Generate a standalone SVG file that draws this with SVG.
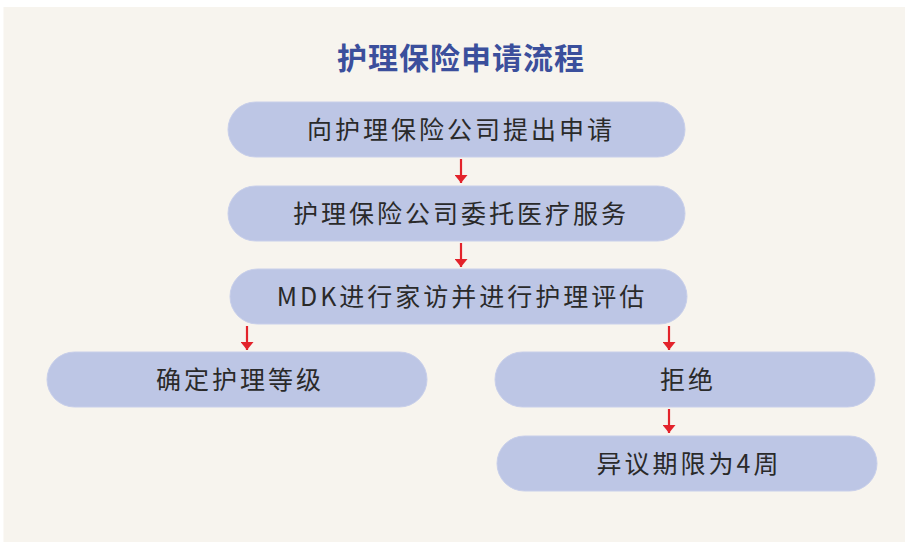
<svg xmlns="http://www.w3.org/2000/svg" width="905" height="543" viewBox="0 0 905 543">
<style>
.node{fill:#bdc6e5;stroke:#c8cfea;stroke-width:1}
.lbl{font-family:"Noto Sans CJK SC","Noto Sans",sans-serif;font-size:25px;fill:#2a2a2a;text-anchor:middle;letter-spacing:3px}
.title{font-family:"Noto Sans CJK SC","Noto Sans",sans-serif;font-size:30px;font-weight:bold;fill:#3b4f9c;text-anchor:middle;letter-spacing:1px}
.conn line{stroke:#e3232b;stroke-width:2.2}
</style>
<defs>
<marker id="ah" viewBox="0 0 8 13" refX="8" refY="6.5" markerWidth="8" markerHeight="13" markerUnits="userSpaceOnUse" orient="auto">
<path d="M0,0 L8,6.5 L0,13 Z" fill="#e3232b"/>
</marker>
</defs>
<rect x="3.5" y="7" width="901.5" height="535" fill="#f7f4ee"/>
<text class="title" x="461" y="69">护理保险申请流程</text>
<g id="n1"><rect class="node" x="228" y="102" width="457" height="55" rx="27.5"/><text class="lbl" x="461" y="139">向护理保险公司提出申请</text></g>
<g id="n2"><rect class="node" x="228" y="186" width="457" height="55" rx="27.5"/><text class="lbl" x="461" y="223">护理保险公司委托医疗服务</text></g>
<g id="n3"><rect class="node" x="230" y="269" width="457" height="55" rx="27.5"/><text class="lbl" x="462" y="306">MDK进行家访并进行护理评估</text></g>
<g id="n4"><rect class="node" x="47" y="352" width="380" height="55" rx="27.5"/><text class="lbl" x="240" y="389">确定护理等级</text></g>
<g id="n5"><rect class="node" x="495" y="352" width="380" height="55" rx="27.5"/><text class="lbl" x="688" y="389">拒绝</text></g>
<g id="n6"><rect class="node" x="497" y="436" width="380" height="55" rx="27.5"/><text class="lbl" x="689" y="473">异议期限为4周</text></g>
<g id="connectors" class="conn">
<line x1="461" y1="159" x2="461" y2="183" marker-end="url(#ah)"/>
<line x1="461" y1="243" x2="461" y2="267" marker-end="url(#ah)"/>
<line x1="247" y1="326" x2="247" y2="350" marker-end="url(#ah)"/>
<line x1="669" y1="326" x2="669" y2="350" marker-end="url(#ah)"/>
<line x1="669" y1="409" x2="669" y2="433" marker-end="url(#ah)"/>
</g>
</svg>
